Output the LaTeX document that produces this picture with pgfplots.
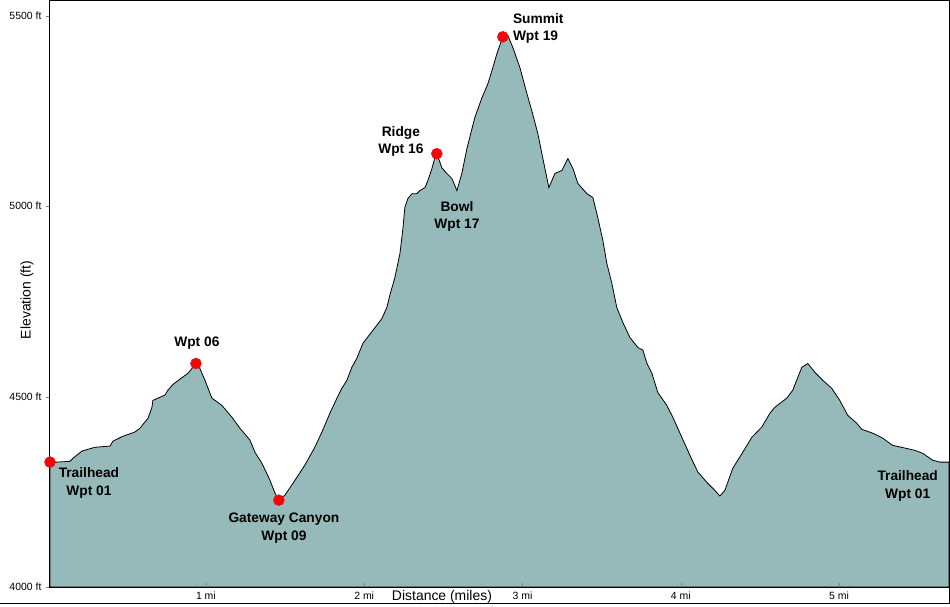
\documentclass[border=0pt]{standalone}
\usepackage{fontspec}
\setmainfont{Liberation Sans}
\usepackage{pgfplots}
\pgfplotsset{compat=1.18}
\definecolor{terrain}{RGB}{150,186,186}
\definecolor{wpt}{RGB}{240,8,8}
\begin{document}
\begin{tikzpicture}
\begin{axis}[
    scale only axis,
    width=899bp, height=586bp,
    xmin=0.015, xmax=5.695,
    ymin=4000, ymax=5539,
    axis on top,
    clip=false,
    xtick={1,2,3,4,5},
    xticklabels={1 mi,2 mi,3 mi,4 mi,5 mi},
    ytick={4000,4500,5000,5500},
    yticklabels={4000 ft,4500 ft,5000 ft,5500 ft},
    xtick pos=bottom, ytick pos=left,
    tick align=outside,
    major tick length=4bp,
    xtick style={yshift=4bp},
    tick label style={font=\fontsize{10.5}{12}\selectfont},
    x tick label style={yshift=2.5bp},
    y tick label style={xshift=-1bp},
    /pgf/number format/assume math mode=true,
    xlabel={Distance (miles)},
    ylabel={Elevation (ft)},
    label style={font=\fontsize{14}{16}\selectfont},
    xlabel style={at={(axis description cs:0.436,0)}, anchor=center, yshift=-10bp},
    ylabel style={at={(axis description cs:-0.0256,0.49)}, anchor=center},
    axis line style={line width=1bp},
]
\coordinate (sw) at (rel axis cs:0,0);
\coordinate (se) at (rel axis cs:1,0);

% elevation profile
\addplot[draw=black, line width=0.8bp, fill=terrain] coordinates {
(0.015,4328)(0.059,4328)(0.141,4330)(0.160,4338)(0.217,4357)(0.299,4367)
(0.394,4370)(0.413,4383)(0.476,4396)(0.551,4407)(0.583,4417)(0.634,4443)
(0.659,4472)(0.665,4490)(0.697,4496)(0.741,4504)(0.760,4517)(0.792,4532)
(0.836,4546)(0.886,4561)(0.918,4577)(0.937,4587)(0.962,4574)(0.994,4543)
(1.038,4496)(1.101,4477)(1.164,4446)(1.215,4417)(1.278,4386)(1.310,4354)
(1.354,4325)(1.404,4281)(1.436,4247)(1.461,4228)(1.499,4241)(1.575,4288)
(1.625,4320)(1.688,4367)(1.733,4407)(1.783,4456)(1.828,4496)(1.859,4522)
(1.891,4543)(1.922,4577)(1.954,4601)(1.992,4640)(2.055,4674)(2.112,4705)
(2.143,4734)(2.162,4766)(2.194,4813)(2.226,4876)(2.245,4942)(2.257,4997)
(2.276,5020)(2.302,5033)(2.333,5033)(2.352,5041)(2.384,5049)(2.402,5067)
(2.428,5099)(2.447,5128)(2.459,5138)(2.491,5101)(2.522,5086)(2.554,5073)
(2.586,5041)(2.617,5086)(2.649,5151)(2.699,5233)(2.744,5285)(2.782,5322)
(2.813,5364)(2.838,5400)(2.876,5445)(2.908,5448)(2.940,5416)(2.984,5364)
(3.028,5296)(3.059,5251)(3.097,5191)(3.141,5101)(3.167,5049)(3.205,5086)
(3.249,5094)(3.287,5125)(3.319,5099)(3.350,5060)(3.407,5033)(3.445,5023)
(3.476,4970)(3.508,4910)(3.533,4850)(3.565,4797)(3.596,4734)(3.634,4695)
(3.678,4656)(3.729,4629)(3.761,4622)(3.786,4588)(3.818,4561)(3.855,4511)
(3.912,4477)(3.950,4446)(4.007,4393)(4.058,4346)(4.108,4302)(4.165,4275)
(4.215,4254)(4.247,4239)(4.279,4254)(4.329,4312)(4.392,4354)(4.449,4393)
(4.512,4420)(4.563,4456)(4.594,4472)(4.670,4496)(4.708,4517)(4.740,4551)
(4.765,4577)(4.803,4587)(4.847,4564)(4.897,4543)(4.954,4522)(5.005,4490)
(5.055,4451)(5.112,4430)(5.144,4414)(5.213,4404)(5.276,4391)(5.339,4372)
(5.415,4365)(5.479,4359)(5.529,4351)(5.592,4333)(5.637,4328)(5.695,4328)
} \closedcycle;

% waypoints
\addplot[only marks, mark=*, mark size=5.5bp, color=wpt] coordinates {
(0.015,4328)(0.937,4587)(1.461,4228)(2.459,5138)(2.876,5445)
};

\tikzset{wlab/.style={font=\bfseries\fontsize{13.8}{17.5}\selectfont, align=center, inner sep=0pt}}
\node[wlab, anchor=west, align=left] at (axis cs:2.939,5467) {Summit\\Wpt 19};
\node[wlab] at (axis cs:2.232,5170) {Ridge\\Wpt 16};
\node[wlab] at (axis cs:2.586,4973) {Bowl\\Wpt 17};
\node[wlab] at (axis cs:0.943,4640) {Wpt 06};
\node[wlab] at (axis cs:0.261,4273) {Trailhead\\Wpt 01};
\node[wlab] at (axis cs:1.493,4155) {Gateway Canyon\\Wpt 09};
\node[wlab] at (axis cs:5.434,4265) {Trailhead\\Wpt 01};
\end{axis}
\path[use as bounding box] (sw) ++(-50bp,-18bp) rectangle ++(950bp,605bp);
\draw[line width=1bp] (sw) ++(-50bp,-16bp) -- ++(949bp,0) |- (se);
\end{tikzpicture}
\end{document}
